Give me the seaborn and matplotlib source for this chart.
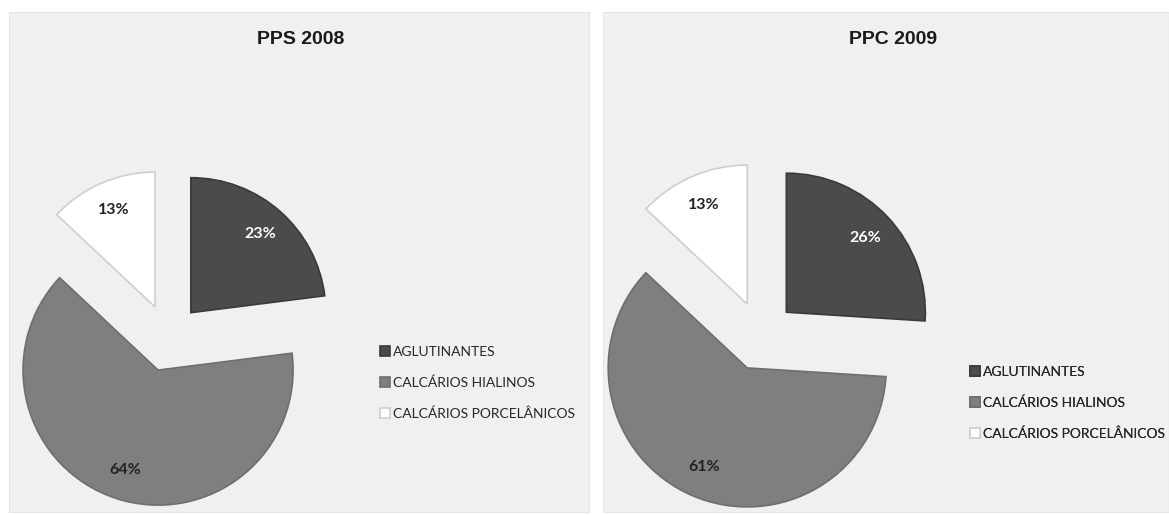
import matplotlib
matplotlib.use("Agg")
import matplotlib.pyplot as plt
from matplotlib.patches import Rectangle
import seaborn as sns

# Foraminifera group shares per sampling campaign
categories = ["AGLUTINANTES", "CALCÁRIOS HIALINOS", "CALCÁRIOS PORCELÂNICOS"]
titles = ["PPS 2008", "PPC 2009"]
pps_2008 = [23, 64, 13]
ppc_2009 = [26, 61, 13]
series = [pps_2008, ppc_2009]

slice_colors = ["#4b4b4b", "#7f7f80", "#ffffff"]
edge_colors = ["#3a3a3a", "#6e6e6e", "#cfcfcf"]
label_colors = ["white", "#222222", "#222222"]

sns.set_theme(style="white")
plt.rcParams["font.family"] = ["Lato", "DejaVu Sans"]

W, H = 1169, 515
fig = plt.figure(figsize=(W / 100, H / 100), dpi=100)
fig.patch.set_facecolor("white")
ax = fig.add_axes([0, 0, 1, 1])
ax.set_xlim(0, W)
ax.set_ylim(0, H)
ax.set_aspect("equal")
ax.axis("off")

# panel frames (pixel space, y measured upward)
panels = [(9, 3, 580, 500), (603, 3, 566, 500)]
for (x0, y0, w, h) in panels:
    ax.add_patch(Rectangle((x0, y0), w, h, facecolor="#f0f0f1",
                           edgecolor="#e6e6e8", lw=0.8, zorder=0))

centers = [(168.5, 177), (761, 179)]
radii = [135, 139]
explode_frac = 0.25
title_pos = [(301, 475), (893, 475)]
legend_anchor = [(380, 132), (970, 112)]

for i, vals in enumerate(series):
    r = radii[i]
    wedges, texts, autotexts = ax.pie(
        vals,
        colors=slice_colors,
        startangle=90,
        counterclock=False,
        explode=[explode_frac * r] * len(vals),
        center=centers[i],
        radius=r,
        autopct=lambda p: f"{p:.0f}%",
        pctdistance=0.78,
        wedgeprops=dict(linewidth=1.2),
        textprops=dict(fontsize=11.5, fontweight="bold"),
        frame=True,
    )
    for w, ec in zip(wedges, edge_colors):
        w.set_edgecolor(ec)
        w.set_zorder(2)
    for t, c in zip(autotexts, label_colors):
        t.set_color(c)
        t.set_zorder(3)

    ax.text(*title_pos[i], titles[i], ha="center", va="center",
            fontsize=14, fontweight="bold", color="#1a1a1a",
            family=["Liberation Sans", "DejaVu Sans"])

    leg = ax.legend(
        wedges, categories,
        loc="center left",
        bbox_to_anchor=legend_anchor[i],
        bbox_transform=ax.transData,
        frameon=False,
        fontsize=10,
        handlelength=0.72,
        handleheight=0.72,
        handletextpad=0.22,
        labelspacing=1.35,
        borderpad=0,
        borderaxespad=0,
    )
    for t in leg.get_texts():
        t.set_color("#262626")
    ax.add_artist(leg)

ax.set_xlim(0, W)
ax.set_ylim(0, H)
ax.axis("off")

fig.savefig("out.png", dpi=100, facecolor="white")
